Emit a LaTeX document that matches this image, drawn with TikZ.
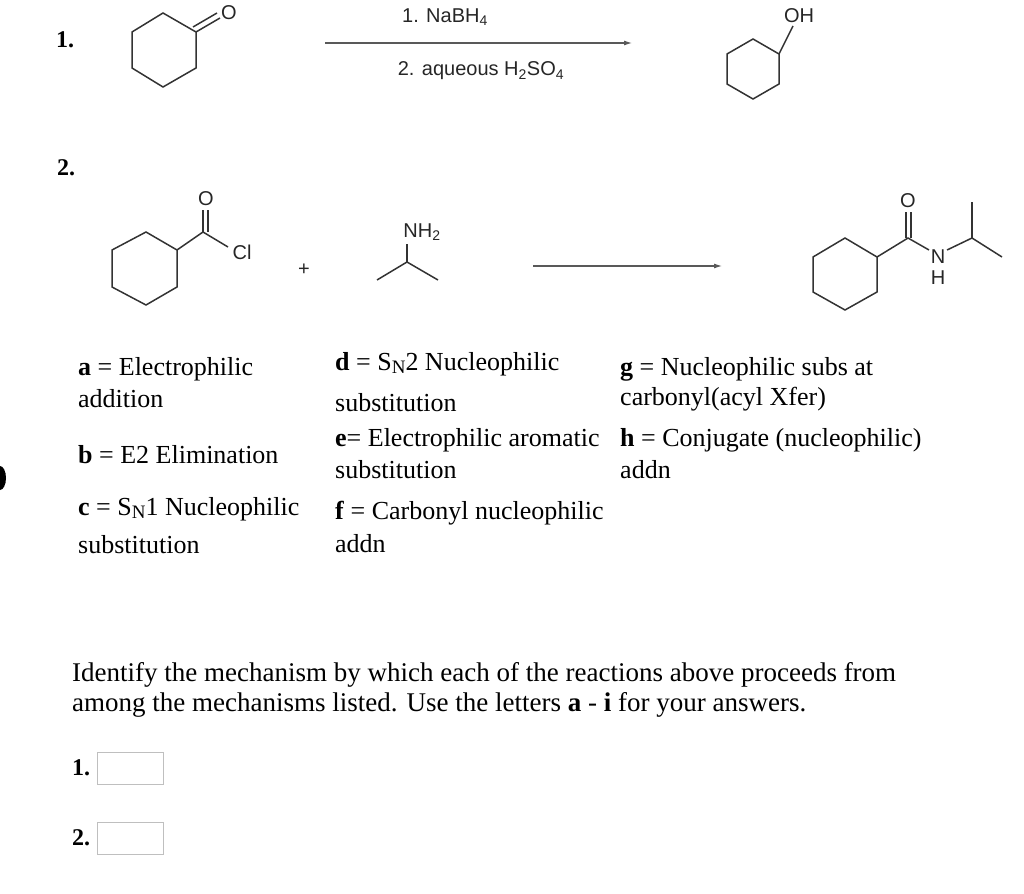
\documentclass[tikz,border=0pt]{standalone}
\usepackage{fontspec}
\setmainfont{Liberation Serif}
\newfontfamily\arial{Liberation Sans}
\begin{document}
\begin{tikzpicture}[x=1pt,y=-1pt,
  bond/.style={line width=1.5pt,draw=black!80},
  txt/.style={anchor=west,inner sep=0pt,font=\fontsize{26}{26}\selectfont},
  btxt/.style={anchor=west,inner sep=0pt,font=\bfseries\fontsize{24}{24}\selectfont},
  qtxt/.style={anchor=west,inner sep=0pt,font=\fontsize{27}{27}\selectfont},
  chem/.style={inner sep=0pt,font=\arial\fontsize{20}{20}\selectfont,text=black!85},
  arr/.style={line width=1.1pt,draw=black!65,-{Latex[length=8pt,width=5pt]}},
  ansbox/.style={draw=black!25,line width=0.8pt,minimum width=66pt,minimum height=32pt,inner sep=0pt}]
\usetikzlibrary{arrows.meta}
\useasboundingbox (0,0) rectangle (1024,893);
% left edge mark
\fill (0,490) arc (90:-90:6 and 12) -- cycle;
% reaction 1
\node[btxt] (n1) at (56,40) {1.};
\draw[bond] (163,13)--(196,32)--(196,68)--(163,87)--(132,68)--(132,32)--cycle;
\node[chem] (o1) at (229,13) {O};
\draw[bond] (196,32)--(220,18);
\draw[bond] (193,27)--(217,13);
\coordinate (a1s) at (325,43); \coordinate (a1e) at (632,43);
\draw[arr] (a1s)--(a1e);
\node[chem] (r1) at (445,17) {1. NaBH\textsubscript{4}};
\node[chem] (r2) at (481,71) {2. aqueous H\textsubscript{2}SO\textsubscript{4}};
\draw[bond] (753,39)--(779,54)--(779,84)--(753,99)--(727,84)--(727,54)--cycle;
\draw[bond] (779,54)--(793,26);
\node[chem] (oh) at (799,16) {OH};
% reaction 2
\node[btxt] (n2) at (57,168) {2.};
\draw[bond] (146,232)--(177,250)--(177,287)--(146,305)--(112,287)--(112,250)--cycle;
\draw[bond] (177,250)--(203,232)--(228,247);
\draw[bond] (203,232)--(203,210);
\draw[bond] (208,232)--(208,210);
\node[chem] (o2) at (206,199) {O};
\node[chem] (cl) at (242,252) {Cl};
\node[chem] (plus) at (304,270) {+};
\draw[bond] (377,280)--(407,262)--(438,280);
\draw[bond] (407,262)--(407,244);
\node[chem] (nh2) at (422,232) {NH\textsubscript{2}};
\coordinate (a2s) at (533,266); \coordinate (a2e) at (722,266);
\draw[arr] (a2s)--(a2e);
\draw[bond] (845,238)--(877,257)--(877,292)--(845,310)--(813,292)--(813,257)--cycle;
\draw[bond] (877,257)--(908,238)--(929,250);
\draw[bond] (906,238)--(906,212);
\draw[bond] (911,238)--(911,212);
\node[chem] (o3) at (908,201) {O};
\node[chem] (nn) at (938,257) {N};
\node[chem] (hh) at (938,278) {H};
\draw[bond] (947,250)--(972,238)--(1002,257);
\draw[bond] (972,238)--(972,202);
% mechanisms
\node[txt] (a) at (78,369) {\textbf{a} = Electrophilic};
\node[txt] (a2) at (78,399) {addition};
\node[txt] (b) at (78,455) {\textbf{b} = E2 Elimination};
\node[txt] (c) at (78,509) {\textbf{c} = S\raisebox{-0.3ex}{\fontsize{19}{19}\selectfont N}1 Nucleophilic};
\node[txt] (c2) at (78,545) {substitution};
\node[txt] (d) at (335,364) {\textbf{d} = S\raisebox{-0.3ex}{\fontsize{19}{19}\selectfont N}2 Nucleophilic};
\node[txt] (d2) at (335,403) {substitution};
\node[txt] (e) at (335,440) {\textbf{e}= Electrophilic aromatic};
\node[txt] (e2) at (335,470) {substitution};
\node[txt] (f) at (335,513) {\textbf{f} = Carbonyl nucleophilic};
\node[txt] (f2) at (335,544) {addn};
\node[txt] (g) at (620,369) {\textbf{g} = Nucleophilic subs at};
\node[txt] (g2) at (620,399) {carbonyl(acyl Xfer)};
\node[txt] (h) at (620,440) {\textbf{h} = Conjugate (nucleophilic)};
\node[txt] (h2) at (620,470) {addn};
% question
\node[qtxt] (q1) at (72,675) {Identify the mechanism by which each of the reactions above proceeds from};
\node[qtxt] (q2) at (72,705) {among the mechanisms listed. Use the letters \textbf{a} - \textbf{i} for your answers.};
\node[btxt] (l1) at (72,768) {1.};
\node[ansbox] (b1) at (130,768) {};
\node[btxt] (l2) at (72,838) {2.};
\node[ansbox] (b2) at (130,838) {};
\end{tikzpicture}
\end{document}
